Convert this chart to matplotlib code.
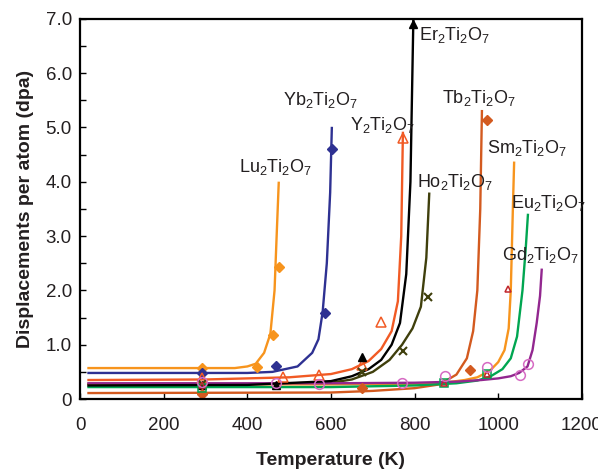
import matplotlib
matplotlib.use('Agg')
import matplotlib.pyplot as plt
from matplotlib.ticker import MultipleLocator

plt.rcParams['font.family'] = ['Liberation Sans', 'DejaVu Sans']
plt.rcParams['mathtext.default'] = 'regular'

# Curves (temperature K, dpa)
lu_t = [20, 370, 400, 420, 440, 455, 465, 470, 475]
lu_dpa = [0.57, 0.57, 0.60, 0.65, 0.85, 1.2, 2.0, 3.0, 3.98]
yb_t = [20, 400, 460, 520, 555, 570, 580, 590, 598, 602]
yb_dpa = [0.48, 0.48, 0.50, 0.60, 0.85, 1.1, 1.6, 2.5, 3.8, 4.99]
y_t = [20, 300, 500, 600, 650, 690, 720, 745, 760, 768, 772]
y_dpa = [0.35, 0.36, 0.40, 0.46, 0.55, 0.70, 0.92, 1.25, 1.8, 3.0, 4.9]
er_t = [20, 400, 600, 650, 690, 720, 745, 765, 780, 790, 797]
er_dpa = [0.25, 0.26, 0.33, 0.42, 0.55, 0.72, 1.0, 1.4, 2.3, 4.0, 7.0]
ho_t = [20, 400, 600, 650, 700, 740, 770, 795, 815, 828, 835]
ho_dpa = [0.28, 0.28, 0.30, 0.36, 0.50, 0.72, 1.0, 1.3, 1.7, 2.6, 3.78]
tb_t = [20, 600, 700, 800, 860, 900, 925, 940, 950, 957, 961]
tb_dpa = [0.11, 0.12, 0.15, 0.20, 0.27, 0.45, 0.75, 1.25, 2.0, 3.5, 5.3]
sm_t = [20, 600, 800, 870, 920, 950, 980, 1000, 1015, 1025, 1030, 1035, 1038]
sm_dpa = [0.27, 0.27, 0.28, 0.30, 0.35, 0.40, 0.52, 0.68, 0.90, 1.3, 2.0, 3.5, 4.35]
eu_t = [20, 600, 800, 900, 950, 980, 1010, 1030, 1045, 1058, 1066, 1071]
eu_dpa = [0.22, 0.22, 0.25, 0.29, 0.34, 0.41, 0.55, 0.75, 1.15, 2.0, 2.8, 3.39]
gd_t = [20, 600, 800, 900, 960, 1000, 1030, 1050, 1070, 1082, 1092, 1100, 1104]
gd_dpa = [0.29, 0.29, 0.30, 0.32, 0.35, 0.38, 0.42, 0.48, 0.60, 0.90, 1.4, 1.9, 2.38]

# Measured points
lu_mt = [292, 423, 461, 476]
lu_md = [0.57, 0.59, 1.18, 2.43]
yb_mt = [292, 468, 586, 602]
yb_md = [0.48, 0.61, 1.58, 4.60]
y_mt = [292, 486, 571, 674, 720, 772]
y_md = [0.38, 0.41, 0.44, 0.63, 1.42, 4.81]
er_mt = [292, 468, 674, 796]
er_md = [0.25, 0.26, 0.77, 6.9]
ho_mt = [292, 674, 772, 832]
ho_md = [0.28, 0.50, 0.88, 1.88]
tb_mt = [292, 674, 932, 973]
tb_md = [0.10, 0.20, 0.53, 5.14]
sm_mt = [292, 870, 972, 1023]
sm_md = [0.25, 0.30, 0.47, 2.03]
eu_mt = [292, 870, 972]
eu_md = [0.20, 0.29, 0.46]
gd_mt = [292, 468, 571, 770, 872, 973, 1052, 1071]
gd_md = [0.31, 0.29, 0.27, 0.29, 0.42, 0.59, 0.44, 0.64]

# Compound labels
names = ['Er', 'Yb', 'Y', 'Lu', 'Tb', 'Sm', 'Ho', 'Eu', 'Gd']
label_t = [810, 486, 645, 380, 866, 973, 806, 1031, 1009]
label_d = [6.7, 5.5, 5.05, 4.27, 5.54, 4.62, 4.0, 3.61, 2.65]


def main():
	fig = plt.figure(figsize=(5.98, 4.70), dpi=100)
	ax = fig.add_axes([0.134, 0.151, 0.839, 0.809])

	lw = 1.7
	ax.plot(lu_t, lu_dpa, color='#F7941D', lw=lw)
	ax.plot(yb_t, yb_dpa, color='#2E3192', lw=lw)
	ax.plot(y_t, y_dpa, color='#F15A24', lw=lw)
	ax.plot(ho_t, ho_dpa, color='#3F3F0C', lw=lw)
	ax.plot(tb_t, tb_dpa, color='#D35A1F', lw=lw)
	ax.plot(sm_t, sm_dpa, color='#F7941D', lw=lw)
	ax.plot(eu_t, eu_dpa, color='#00A651', lw=lw)
	ax.plot(gd_t, gd_dpa, color='#92278F', lw=lw)
	ax.plot(er_t, er_dpa, color='black', lw=lw)

	ms = 6
	ax.plot(lu_mt, lu_md, 'D', color='#F7941D', ms=ms - 1, ls='none')
	ax.plot(yb_mt, yb_md, 'D', color='#2E3192', ms=ms - 1, ls='none')
	ax.plot(y_mt, y_md, '^', mfc='none', mec='#F15A24', mew=1.1, ms=ms + 1, ls='none')
	ax.plot(er_mt, er_md, '^', color='black', ms=ms, ls='none')
	ax.plot(ho_mt, ho_md, 'x', color='#3F3F0C', mew=1.5, ms=ms, ls='none')
	ax.plot(tb_mt, tb_md, 'D', color='#D35A1F', ms=ms - 1, ls='none')
	ax.plot(eu_mt, eu_md, 's', mfc='none', mec='#00A651', mew=1.1, ms=ms, ls='none')
	ax.plot(sm_mt, sm_md, '^', mfc='none', mec='#C1272D', mew=1.1, ms=ms - 1, ls='none')
	ax.plot(gd_mt, gd_md, 'o', mfc='none', mec='#D66BC3', mew=1.1, ms=ms + 1, ls='none')

	for n, t, d in zip(names, label_t, label_d):
		ax.text(t, d, n + r'$_2$Ti$_2$O$_7$', fontsize=13, color='#231F20',
			ha='left', va='center')

	ax.set_xlim(0, 1200)
	ax.set_ylim(0, 7)
	ax.set_xticks([0, 200, 400, 600, 800, 1000, 1200])
	ax.set_yticks([0, 1, 2, 3, 4, 5, 6, 7])
	ax.set_yticklabels(['0', '1.0', '2.0', '3.0', '4.0', '5.0', '6.0', '7.0'])
	ax.yaxis.set_minor_locator(MultipleLocator(0.5))
	ax.tick_params(axis='both', which='both', direction='in', width=1,
		labelsize=13.5, labelcolor='#231F20')
	ax.tick_params(axis='both', which='major', length=4)
	ax.tick_params(axis='y', which='minor', length=4)
	ax.tick_params(axis='x', pad=13)
	ax.tick_params(axis='y', pad=6)
	for s in ax.spines.values():
		s.set_linewidth(1.6)

	ax.set_xlabel('Temperature (K)', fontsize=14, fontweight='bold',
		color='#231F20', labelpad=13)
	ax.set_ylabel('Displacements per atom (dpa)', fontsize=14, fontweight='bold',
		color='#231F20', labelpad=8)

	fig.savefig('out.png', dpi=100)


if __name__ == '__main__':
	main()
